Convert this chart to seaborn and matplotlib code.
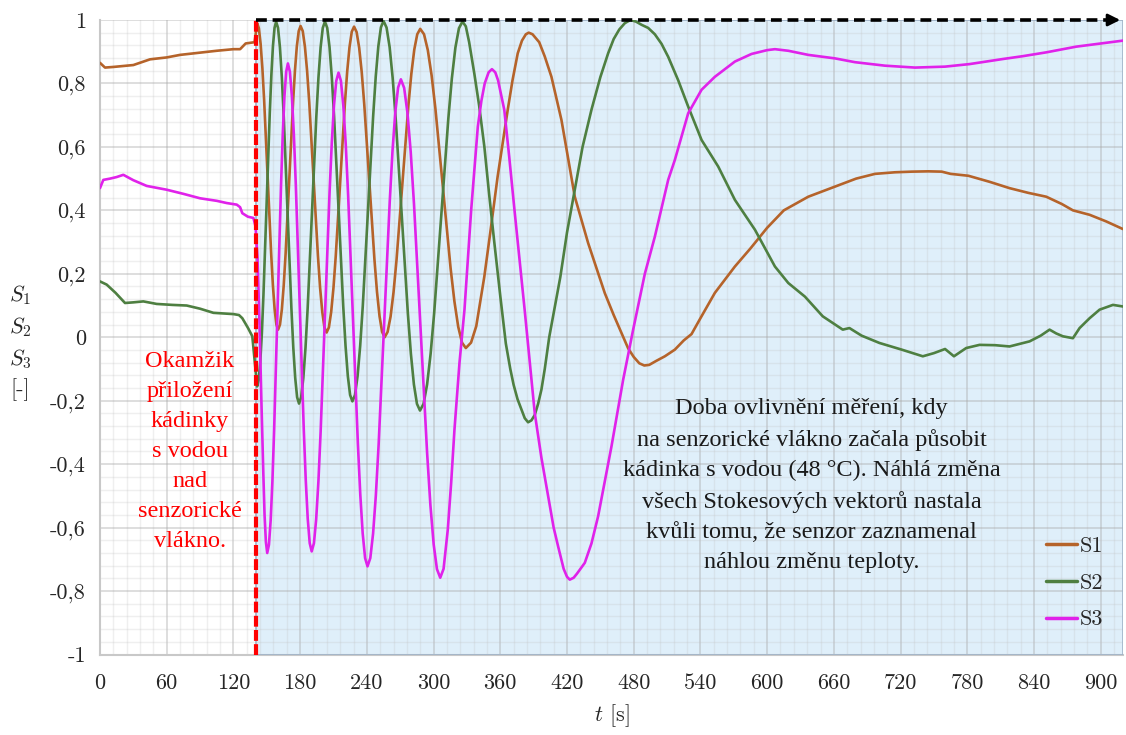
import pandas as pd
import matplotlib
matplotlib.use("Agg")
import matplotlib.pyplot as plt
import seaborn as sns

# S1 (hnědá)
s1_t = [0, 4.5, 12, 21, 30, 45, 60, 72, 90, 105, 120, 126, 131, 139,
        141.3, 142.88, 144.45, 146.03, 147.6, 150.75, 153.9, 155.48, 157.05, 158.63, 160.2,
        161.88, 163.57, 165.25, 166.93, 170.3, 173.67, 175.35, 177.03, 178.72, 180.4,
        182.35, 184.3, 186.25, 188.2, 192.1, 196, 197.95, 199.9, 201.85, 203.8,
        205.86, 207.92, 209.98, 212.03, 216.15, 220.27, 222.33, 224.38, 226.44, 228.5,
        230.79, 233.08, 235.38, 237.67, 242.25, 246.83, 249.13, 251.42, 253.71, 256,
        258.67, 261.33, 264, 266.67, 272, 277.33, 280, 282.67, 285.33, 288,
        291.42, 294.83, 298.25, 301.67, 308.5, 315.33, 318.75, 322.17, 325.58, 329,
        333.7, 338.4, 345.6, 351, 357.6, 366.7, 371, 375.7, 379.5, 383, 385.6,
        389, 395, 400, 406, 415, 427, 439, 454, 462, 469, 475, 480, 485, 489.5,
        494, 500, 508, 517, 525, 532, 540, 553, 571, 585, 600, 615, 637, 661, 680, 697, 715, 730,
        745, 757, 765, 781, 800, 818, 835, 851, 865, 875, 890, 905, 920]
s1_v = [0.865, 0.85, 0.852, 0.855, 0.858, 0.876, 0.882, 0.89, 0.897, 0.903, 0.908, 0.908, 0.926, 0.93,
        0.99, 0.974, 0.925, 0.849, 0.749, 0.507, 0.266, 0.165, 0.089, 0.040, 0.024,
        0.040, 0.088, 0.164, 0.263, 0.503, 0.742, 0.841, 0.917, 0.965, 0.981,
        0.965, 0.916, 0.840, 0.740, 0.498, 0.257, 0.156, 0.080, 0.031, 0.015,
        0.031, 0.080, 0.156, 0.256, 0.497, 0.738, 0.838, 0.914, 0.963, 0.979,
        0.962, 0.913, 0.836, 0.734, 0.490, 0.245, 0.143, 0.066, 0.017, 0.0,
        0.017, 0.065, 0.142, 0.243, 0.486, 0.729, 0.830, 0.907, 0.955, 0.972,
        0.955, 0.905, 0.825, 0.720, 0.469, 0.217, 0.113, 0.033, -0.017, -0.034,
        -0.017, 0.035, 0.19, 0.33, 0.506, 0.717, 0.81, 0.895, 0.935, 0.955, 0.96,
        0.955, 0.93, 0.885, 0.821, 0.685, 0.443, 0.297, 0.139, 0.07, 0.013, -0.035, -0.062, -0.082, -0.089,
        -0.087, -0.075, -0.06, -0.039, -0.01, 0.01, 0.06, 0.14, 0.223, 0.28, 0.345, 0.40, 0.443, 0.475,
        0.50, 0.515, 0.52, 0.522, 0.523, 0.522, 0.515, 0.509, 0.49, 0.47, 0.455, 0.443, 0.42, 0.40,
        0.386, 0.365, 0.341]

# S2 (zelená)
s2_t = [0, 6, 14, 22.5, 30, 39, 51, 65, 78, 90, 102, 120, 125, 128, 133, 137, 141.3,
        142.73, 144.15, 145.58, 147, 149.85, 152.7, 154.13, 155.55, 156.98, 158.4,
        160.12, 161.83, 163.55, 165.27, 168.7, 172.13, 173.85, 175.57, 177.28, 179,
        180.94, 182.88, 184.83, 186.77, 190.65, 194.53, 196.48, 198.42, 200.36, 202.3,
        204.36, 206.42, 208.48, 210.53, 214.65, 218.77, 220.83, 222.88, 224.94, 227,
        229.33, 231.67, 234, 236.33, 241, 245.67, 248, 250.33, 252.67, 255,
        257.73, 260.47, 263.2, 265.93, 271.4, 276.87, 279.6, 282.33, 285.07, 287.8,
        290.98, 294.17, 297.35, 300.53, 306.9, 313.27, 316.45, 319.63, 322.82, 326,
        329, 332, 336.7, 341, 345.7, 350, 354.6, 360, 365, 369, 372, 375.5, 378.8, 382, 385,
        388, 391, 394, 397, 400, 404, 409, 414, 420, 427, 434, 442, 450, 457, 462, 467, 472, 477,
        482, 487, 493, 499, 505, 511, 520, 529, 541, 556, 571, 589, 607, 619, 634, 650, 668, 674,
        685, 701, 721, 740, 750, 760, 768, 779, 791, 805, 818, 836, 846, 854, 860, 866, 875, 881,
        890, 899, 911, 920]
s2_v = [0.176, 0.166, 0.14, 0.108, 0.11, 0.113, 0.105, 0.102, 0.10, 0.09, 0.077, 0.073, 0.07, 0.06, 0.03, 0.003, -0.155,
        -0.135, -0.078, 0.013, 0.133, 0.42, 0.708, 0.827, 0.918, 0.975, 0.995,
        0.975, 0.914, 0.819, 0.694, 0.393, 0.092, -0.033, -0.128, -0.189, -0.209,
        -0.189, -0.128, -0.033, 0.092, 0.393, 0.694, 0.819, 0.914, 0.975, 0.995,
        0.975, 0.915, 0.820, 0.696, 0.397, 0.097, -0.027, -0.122, -0.182, -0.202,
        -0.182, -0.122, -0.027, 0.098, 0.398, 0.697, 0.822, 0.917, 0.977, 0.997,
        0.976, 0.915, 0.818, 0.69, 0.383, 0.076, -0.052, -0.149, -0.21, -0.231,
        -0.21, -0.149, -0.052, 0.076, 0.382, 0.689, 0.816, 0.913, 0.974, 0.995,
        0.98, 0.93, 0.83, 0.73, 0.60, 0.45, 0.30, 0.13, -0.02, -0.10, -0.15, -0.195, -0.225, -0.255, -0.268,
        -0.262, -0.245, -0.21, -0.165, -0.10, 0.0, 0.095, 0.19, 0.33, 0.465, 0.60, 0.717, 0.82, 0.895,
        0.94, 0.97, 0.99, 1.0,
        0.995, 0.985, 0.975, 0.955, 0.925, 0.884, 0.81, 0.727, 0.622, 0.538, 0.433, 0.339, 0.223, 0.171,
        0.128, 0.066, 0.024, 0.029, 0.005, -0.018, -0.039, -0.06, -0.05, -0.037, -0.06, -0.034, -0.024,
        -0.025, -0.029, -0.013, 0.005, 0.024, 0.012, 0.003, -0.003, 0.029, 0.06, 0.087, 0.102, 0.097]

# S3 (fialová)
s3_t = [0, 3, 9, 15, 21, 30, 42, 60, 75, 90, 105, 114, 123, 126, 128, 133, 138, 139.9,
        141.65, 143.4, 145.15, 146.9, 148, 149.2, 150.4,
        151.95, 153.5, 155.05, 156.6, 159.7, 162.8, 164.35, 165.9, 167.45, 169,
        170.78, 172.57, 174.35, 176.13, 179.7, 183.27, 185.05, 186.83, 188.62, 190.4,
        192.41, 194.42, 196.43, 198.43, 202.45, 206.47, 208.48, 210.48, 212.49, 214.5,
        216.68, 218.85, 221.03, 223.2, 227.55, 231.9, 234.08, 236.25, 238.43, 240.6,
        243.1, 245.6, 248.1, 250.6, 255.6, 260.6, 263.1, 265.6, 268.1, 270.6,
        273.55, 276.5, 279.45, 282.4, 288.3, 294.2, 297.15, 300.1, 303.05, 306,
        309, 312.8, 315.8, 318.8, 323.3, 327.8, 333.8, 339.8, 343, 346, 349.5, 352.5,
        355.5, 358, 363.6, 368, 372.8, 381.9, 391, 397, 403, 408, 412, 417, 420, 422.5,
        426, 429, 436, 442, 448, 460, 470.5, 479.5, 490, 499, 511, 517, 529, 541, 553, 571, 586,
        600, 607, 619, 637, 661, 679, 706, 733, 760, 782, 812, 830, 851, 878, 902, 920]
s3_v = [0.47, 0.496, 0.5, 0.505, 0.512, 0.495, 0.477, 0.465, 0.452, 0.438, 0.43, 0.423, 0.418, 0.41, 0.391, 0.38, 0.376, 0.349,
        0.25, 0.05, -0.2, -0.43, -0.56, -0.645, -0.68,
        -0.654, -0.577, -0.455, -0.294, 0.092, 0.477, 0.638, 0.76, 0.837, 0.863,
        0.837, 0.76, 0.639, 0.479, 0.094, -0.291, -0.45, -0.572, -0.649, -0.675,
        -0.649, -0.574, -0.455, -0.298, 0.08, 0.457, 0.614, 0.733, 0.808, 0.834,
        0.808, 0.73, 0.607, 0.445, 0.056, -0.333, -0.495, -0.618, -0.696, -0.722,
        -0.696, -0.619, -0.498, -0.338, 0.046, 0.429, 0.589, 0.71, 0.787, 0.813,
        0.786, 0.708, 0.584, 0.42, 0.028, -0.365, -0.529, -0.653, -0.731, -0.758,
        -0.73, -0.606, -0.46, -0.291, -0.081, 0.087, 0.40, 0.664, 0.745, 0.80, 0.835, 0.845,
        0.835, 0.81, 0.717, 0.57, 0.40, 0.087, -0.239, -0.38, -0.501, -0.6, -0.659, -0.73, -0.755, -0.764,
        -0.758, -0.745, -0.711, -0.65, -0.564, -0.344, -0.134, 0.024, 0.20, 0.317, 0.496, 0.559, 0.706,
        0.78, 0.821, 0.869, 0.893, 0.905, 0.908, 0.903, 0.89, 0.879, 0.867, 0.856, 0.85, 0.853, 0.861,
        0.877, 0.886, 0.898, 0.916, 0.927, 0.935]

x_ticks = [0, 60, 120, 180, 240, 300, 360, 420, 480, 540, 600, 660, 720, 780, 840, 900]
y_ticks = [-1, -0.8, -0.6, -0.4, -0.2, 0, 0.2, 0.4, 0.6, 0.8, 1]
y_labels = ['-1', '-0,8', '-0,6', '-0,4', '-0,2', '0', '0,2', '0,4', '0,6', '0,8', '1']
t_start = 140
t_end = 920

df = pd.concat([
    pd.DataFrame({'t': s1_t, 'S': s1_v, 'serie': 'S1'}),
    pd.DataFrame({'t': s2_t, 'S': s2_v, 'serie': 'S2'}),
    pd.DataFrame({'t': s3_t, 'S': s3_v, 'serie': 'S3'}),
])
barvy = {'S1': '#b5632a', 'S2': '#4e7f41', 'S3': '#e022ea'}

sns.set_style('white')
plt.rcParams['font.family'] = ['cmr10', 'Liberation Serif']
plt.rcParams['mathtext.fontset'] = 'cm'
plt.rcParams['axes.unicode_minus'] = False
plt.rcParams['axes.formatter.use_mathtext'] = True
text_font = ['Liberation Serif', 'DejaVu Serif']

fig = plt.figure(figsize=(11.26, 7.35), dpi=100)
ax = fig.add_axes([0.0888, 0.1095, 0.9085, 0.8633])

ax.axvspan(t_start, t_end, facecolor='#dfeffa', edgecolor='none', zorder=0.2)
ax.axvspan(t_start, t_end, facecolor='none', edgecolor='#9fb3c8', lw=1.2, zorder=2.6)

sns.lineplot(data=df, x='t', y='S', hue='serie', palette=barvy, estimator=None,
             linewidth=1.9, ax=ax, zorder=3)

ax.set_xlim(0, t_end)
ax.set_ylim(-1, 1)
ax.set_xticks(x_ticks)
ax.set_xticklabels([str(v) for v in x_ticks])
ax.set_yticks(y_ticks)
ax.set_yticklabels(y_labels)
ax.set_xticks(range(0, 921, 12), minor=True)
ax.set_yticks([-1 + 0.04 * i for i in range(51)], minor=True)
ax.set_axisbelow(True)
ax.grid(which='major', color='#a8a8a8', alpha=0.45, lw=1.2)
ax.grid(which='minor', color='#c0c0c0', alpha=0.25, lw=1.0)
ax.tick_params(which='both', length=0, labelsize=16)
ax.tick_params(axis='x', pad=14)
ax.tick_params(axis='y', pad=10)
for s in ['top', 'right']:
    ax.spines[s].set_visible(False)
for s in ['left', 'bottom']:
    ax.spines[s].set_color('#c8c8c8')
    ax.spines[s].set_linewidth(1.5)

ax.set_xlabel('$t$ [s]', fontsize=16, labelpad=6)
ax.set_ylabel('')
fig.text(20 / 1126, 1 - 342 / 735, '$S_1$\n$S_2$\n$S_3$\n[-]', fontsize=16,
         ha='center', va='center', linespacing=1.45)

# okamžik přiložení
ax.plot([t_start, t_start], [-1, 1], color='#ff0000', lw=3, dashes=(2.6, 0.8), zorder=4, clip_on=False)
ax.plot([t_start, 908], [1, 1], color='black', lw=2.6, dashes=(3, 1.6), zorder=4, clip_on=False)
ax.annotate('', xy=(t_end, 1), xytext=(905, 1),
            arrowprops=dict(arrowstyle='-|>', color='black', lw=2, mutation_scale=18),
            annotation_clip=False, zorder=5)

ax.text(81, -0.36, 'Okamžik\npřiložení\nkádinky\ns vodou\nnad\nsenzorické\nvlákno.',
        color='#ff0000', fontsize=17.5, ha='center', va='center', linespacing=1.57,
        family=text_font)
ax.text(640, -0.468, 'Doba ovlivnění měření, kdy\nna senzorické vlákno začala působit\n'
        'kádinka s vodou (48 °C). Náhlá změna\nvšech Stokesových vektorů nastala\n'
        'kvůli tomu, že senzor zaznamenal\nnáhlou změnu teploty.',
        color='#1a1a1a', fontsize=17.5, ha='center', va='center', linespacing=1.57,
        family=text_font)

leg = ax.legend(loc='lower right', bbox_to_anchor=(1.0, 0.008), frameon=False, fontsize=16,
                handlelength=1.4, handletextpad=0.1, labelspacing=0.77)
for line in leg.get_lines():
    line.set_linewidth(2.5)

fig.savefig('out.png', dpi=100)
